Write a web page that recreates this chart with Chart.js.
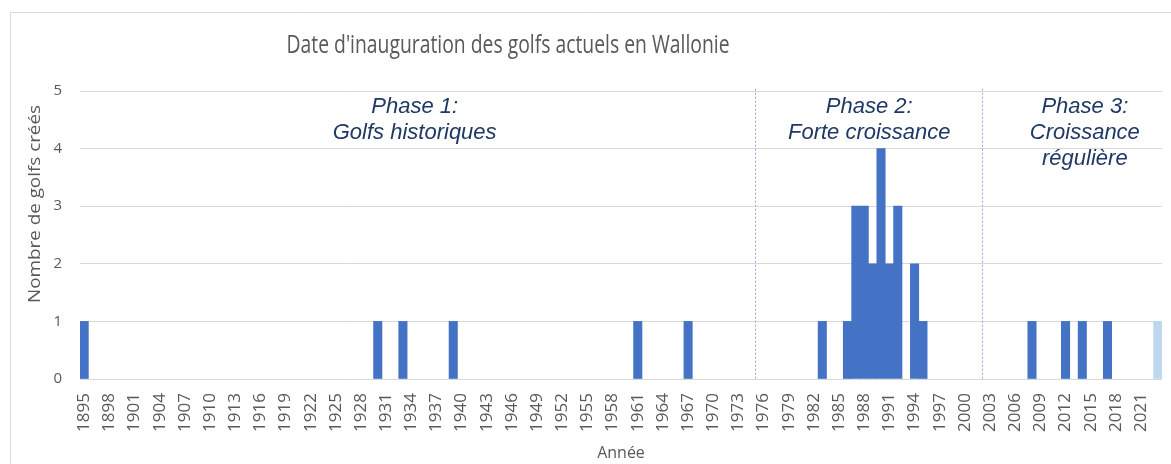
<!DOCTYPE html>
<html>
<head>
<meta charset="utf-8">
<script src="https://cdn.jsdelivr.net/npm/chart.js@4/dist/chart.umd.min.js"></script>
<style>
  html, body { margin: 0; padding: 0; background: #fff; }
  canvas { display: block; }
</style>
</head>
<body>
<canvas id="golfChart" width="1171" height="464"></canvas>
<script>
// categories: every year from 1895 to 2023
const firstYear = 1895;
const lastYear = 2023;
const years = [];
for (let y = firstYear; y <= lastYear; y++) years.push(String(y));

// golfs opened per year (years not listed have none)
const foundedYears = [1895, 1930, 1933, 1939, 1961, 1967, 1983, 1986, 1987, 1988, 1989, 1990, 1991, 1992, 1994, 1995, 2008, 2012, 2014, 2017, 2023];
const golfCounts   = [1,    1,    1,    1,    1,    1,    1,    1,    3,    3,    2,    4,    2,    3,    2,    1,    1,    1,    1,    1,    1];
const lightYears = [2023];

const yTicks = [0, 1, 2, 3, 4, 5];
const phaseBreaks = ["1975", "2002"];
const phaseTexts = [
  ["Phase 1:", "Golfs historiques"],
  ["Phase 2:", "Forte croissance"],
  ["Phase 3:", "Croissance", "régulière"],
];
const phaseCenters = [39.4, 93.6, 119.3]; // category index of each text centre
const phaseTop = 4.73;   // y value of the first text line
const phaseLineGap = 0.45;

// empty years get null so no zero-height bar is painted on the axis
const counts = years.map(y => {
  const i = foundedYears.indexOf(Number(y));
  return i >= 0 ? golfCounts[i] : null;
});
const colors = years.map(y => lightYears.includes(Number(y)) ? "#BDD7EE" : "#4472C4");

const GRAY = "#595959";

const decorPlugin = {
  id: "decor",
  beforeDraw(chart) {
    const ctx = chart.ctx;
    ctx.save();
    ctx.fillStyle = "#fff";
    ctx.fillRect(0, 0, chart.width, chart.height);
    // chart frame (only left and top visible)
    ctx.strokeStyle = "#D9D9D9";
    ctx.lineWidth = 1;
    ctx.beginPath();
    ctx.moveTo(10.5, chart.height);
    ctx.lineTo(10.5, 12.5);
    ctx.lineTo(chart.width, 12.5);
    ctx.stroke();
    ctx.restore();
  },
  afterDraw(chart) {
    const ctx = chart.ctx;
    const x = chart.scales.x, y = chart.scales.y;
    ctx.save();

    // title, narrowed to look like Calibri
    ctx.font = "26px 'Open Sans'";
    ctx.fillStyle = GRAY;
    ctx.textAlign = "center";
    ctx.textBaseline = "middle";
    const title = "Date d'inauguration des golfs actuels en Wallonie";
    const tw = ctx.measureText(title).width;
    ctx.save();
    ctx.translate(508, 46);
    ctx.scale(443 / tw, 1);
    ctx.fillText(title, 0, 0);
    ctx.restore();

    // y axis title
    ctx.font = "17px 'Open Sans'";
    const yt = "Nombre de golfs créés";
    const yw = ctx.measureText(yt).width;
    ctx.save();
    ctx.translate(35, 204);
    ctx.rotate(-Math.PI / 2);
    ctx.scale(198 / yw, 1);
    ctx.fillText(yt, 0, 0);
    ctx.restore();

    // phase separators
    ctx.strokeStyle = "#8FAADC";
    ctx.lineWidth = 1;
    ctx.setLineDash([2, 2]);
    phaseBreaks.forEach(label => {
      const px = Math.round(x.getPixelForValue(years.indexOf(label))) + 0.5;
      ctx.beginPath();
      ctx.moveTo(px, y.getPixelForValue(5.04));
      ctx.lineTo(px, y.getPixelForValue(0));
      ctx.stroke();
    });
    ctx.setLineDash([]);

    // phase texts
    ctx.font = "italic 22px 'Liberation Sans'";
    ctx.fillStyle = "#203864";
    phaseTexts.forEach((lines, k) => {
      const px = x.getPixelForValue(phaseCenters[k]);
      lines.forEach((t, j) => {
        ctx.fillText(t, px, y.getPixelForValue(phaseTop - j * phaseLineGap));
      });
    });
    ctx.restore();
  }
};

new Chart(document.getElementById("golfChart"), {
  type: "bar",
  data: {
    labels: years,
    datasets: [{
      data: counts,
      backgroundColor: colors,
      barPercentage: 1,
      categoryPercentage: 1,
    }]
  },
  options: {
    responsive: false,
    animation: false,
    layout: { padding: { top: 91, right: 9, left: 0, bottom: 0 } },
    plugins: { legend: { display: false }, tooltip: { enabled: false } },
    scales: {
      x: {
        grid: { display: false },
        border: { display: false },
        ticks: {
          autoSkip: false,
          minRotation: 90,
          maxRotation: 90,
          padding: 6,
          color: GRAY,
          font: { family: "'Open Sans'", size: 17 },
          callback: (v, i) => (i % 3 === 0 ? years[i] : ""),
        },
        title: {
          display: true,
          text: "Année",
          color: GRAY,
          font: { family: "'Open Sans'", size: 16 },
          padding: { top: 2, bottom: 1 },
        },
        afterFit: s => { s.height = 85; s.paddingLeft = 0; s.paddingRight = 0; },
      },
      y: {
        min: 0,
        max: 5,
        afterBuildTicks: s => { s.ticks = yTicks.map(v => ({ value: v })); },
        grid: { color: "#D9D9D9", drawTicks: false },
        border: { display: false },
        ticks: {
          padding: 18,
          color: GRAY,
          font: { family: "'Open Sans'", size: 15 },
        },
        afterFit: s => { s.width = 80; },
      }
    }
  },
  plugins: [decorPlugin]
});
</script>
</body>
</html>
